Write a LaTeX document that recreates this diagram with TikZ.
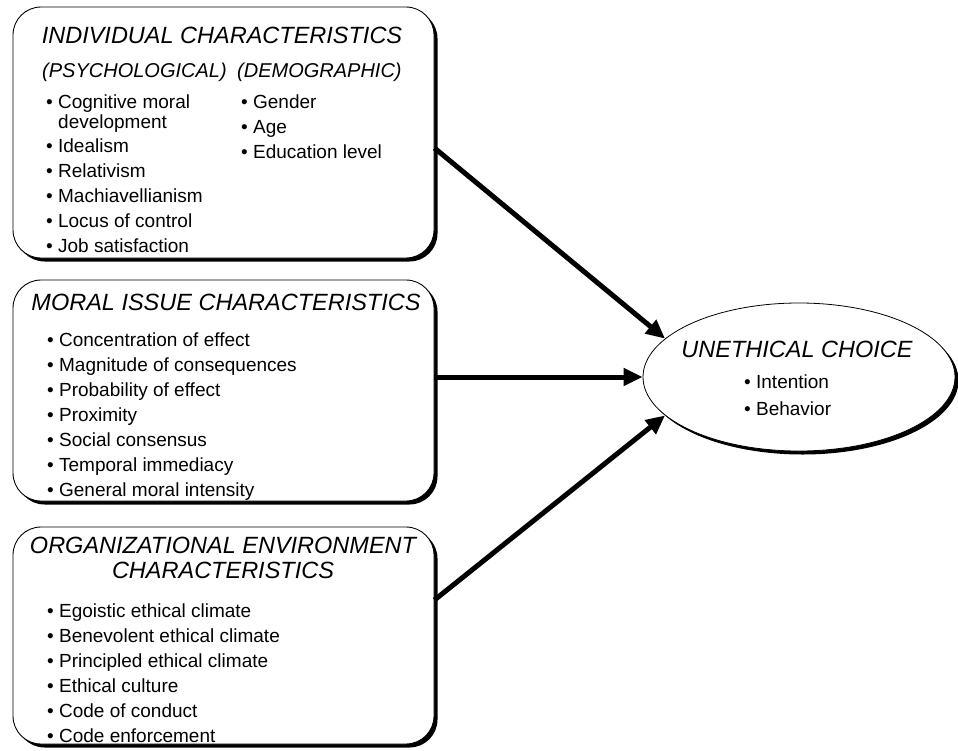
\documentclass[tikz,border=0pt]{standalone}
\usepackage{fontspec}
\setmainfont{Liberation Sans}
\usetikzlibrary{shapes.geometric,shadows,arrows.meta}

\tikzset{
  factor/.style={draw, line width=0.9pt, fill=white, rounded corners=28pt, inner sep=0pt,
    minimum width=421pt,
    drop shadow={shadow xshift=3.5pt, shadow yshift=-3.5pt, opacity=1, fill=black}},
  outcome/.style={ellipse, draw, line width=0.8pt, fill=white, inner sep=0pt,
    minimum width=312pt, minimum height=148pt,
    drop shadow={shadow xshift=3.5pt, shadow yshift=-3.5pt, opacity=1, fill=black}},
  headline/.style={anchor=base, inner sep=0pt, font=\fontsize{23.5}{25}\selectfont\itshape},
  subhead/.style={anchor=base west, inner sep=0pt, font=\fontsize{20}{22}\selectfont\itshape},
  item/.style={anchor=base west, inner sep=0pt, font=\fontsize{19}{23}\selectfont},
  link/.style={line width=5pt, -{Triangle[length=19pt, width=17pt]}}
}

\begin{document}
\begin{tikzpicture}[x=1pt, y=-1pt]

\useasboundingbox (0,0) rectangle (958,750);

\node[factor, minimum height=251pt] (indiv) at (223.5,132.5) {};
\node[factor, minimum height=221pt] (moral) at (223.5,390.5) {};
\node[factor, minimum height=217pt] (org) at (223.5,635.5) {};
\node[outcome] (choice) at (799,377) {};

\node[headline] (indivtitle) at (222,43) {INDIVIDUAL CHARACTERISTICS};
\node[subhead] (psych) at (42,77) {(PSYCHOLOGICAL)};
\node[subhead] (demo) at (237,77) {(DEMOGRAPHIC)};
\node[item] (cog) at (46,108) {\textbullet\ Cognitive moral};
\node[item] (cogdev) at (58,128) {development};
\foreach \t [count=\i from 0] in {Idealism,Relativism,Machiavellianism,Locus of control,Job satisfaction}{
\node[item] (psy\i) at (46,152+25*\i) {\textbullet\ \t};
}
\foreach \t [count=\i from 0] in {Gender,Age,Education level}{
\node[item] (dem\i) at (241,108+25*\i) {\textbullet\ \t};
}

\node[headline] (moraltitle) at (226,310) {MORAL ISSUE CHARACTERISTICS};
\foreach \t [count=\i from 0] in {Concentration of effect,Magnitude of consequences,Probability of effect,Proximity,Social consensus,Temporal immediacy,General moral intensity}{
\node[item] (mor\i) at (47,346+25*\i) {\textbullet\ \t};
}

\node[headline] (orgtitle) at (223,553) {ORGANIZATIONAL ENVIRONMENT};
\node[headline] (orgtitleb) at (223,578) {CHARACTERISTICS};
\foreach \t [count=\i from 0] in {Egoistic ethical climate,Benevolent ethical climate,Principled ethical climate,Ethical culture,Code of conduct,Code enforcement}{
\node[item] (env\i) at (47,617+25*\i) {\textbullet\ \t};
}

\node[headline] (choicetitle) at (797,357) {UNETHICAL CHOICE};
\node[item] (intent) at (744,388) {\textbullet\ Intention};
\node[item] (behav) at (744,415) {\textbullet\ Behavior};

\draw[link] ([yshift=-15.5pt]indiv.east) -- (choice.164);
\draw[link] (moral.east |- choice.west) -- (choice.west);
\draw[link] ([yshift=35.5pt]org.east) -- (choice.196);

\end{tikzpicture}
\end{document}
